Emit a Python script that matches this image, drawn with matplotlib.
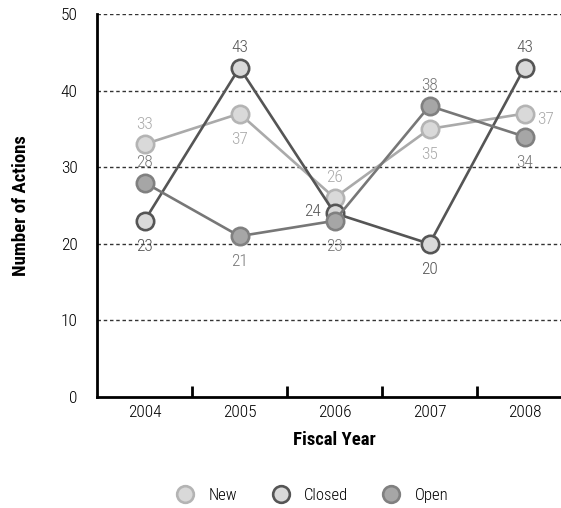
import numpy as np
import matplotlib.pyplot as plt
from matplotlib.lines import Line2D

plt.rcParams['font.family'] = ['Roboto Condensed', 'Liberation Sans Narrow', 'DejaVu Sans']
plt.rcParams['font.weight'] = 'light'

years = ['2004', '2005', '2006', '2007', '2008']
new_actions = [33, 37, 26, 35, 37]
closed_actions = [23, 43, 24, 20, 43]
open_actions = [28, 21, 23, 38, 34]

# where each value label sits relative to its point
new_pos = ['above', 'below', 'above', 'below', 'right']
closed_pos = ['below', 'above', 'left', 'below', 'above']
open_pos = ['above', 'below', 'below', 'above', 'below']

series = [
    ('New', new_actions, new_pos, '#aaaaaa', '#d9d9d9', '#b4b4b4', '#aaaaaa'),
    ('Closed', closed_actions, closed_pos, '#555555', '#d9d9d9', '#555555', '#555555'),
    ('Open', open_actions, open_pos, '#777777', '#a6a6a6', '#808080', '#777777'),
]

fig = plt.figure(figsize=(5.61, 5.08), dpi=100)
ax = fig.add_axes([97 / 561, 111 / 508, 475 / 561, 383 / 508])

x = np.arange(len(years))
offsets = {'above': (0, 9, 'center', 'bottom'),
           'below': (0, -13, 'center', 'top'),
           'left': (-10, 1, 'right', 'center'),
           'right': (9, -4, 'left', 'center')}

for name, vals, pos, lc, fc, ec, tc in series:
    ax.plot(x, vals, color=lc, lw=1.9, marker='o', ms=12.5,
            mfc=fc, mec=ec, mew=1.9, zorder=3)
    for xi, v, p in zip(x, vals, pos):
        dx, dy, ha, va = offsets[p]
        ax.annotate(str(v), (xi, v), xytext=(dx, dy), textcoords='offset points',
                    ha=ha, va=va, fontsize=12.5, color=tc, zorder=4)

ax.set_xlim(-0.5, 4.5)
ax.set_ylim(0, 50)
ax.set_yticks(range(0, 51, 10))
for yv in range(10, 51, 10):
    ax.axhline(yv, color='#333333', lw=1.0, ls=(0, (2.5, 2)), zorder=1)

ax.set_xticks(x)
ax.set_xticklabels(years)
ax.set_xticks(x[:-1] + 0.5, minor=True)
ax.tick_params(axis='x', which='major', length=0, pad=6, labelsize=12.5)
ax.tick_params(axis='x', which='minor', direction='in', length=8, width=2)
ax.tick_params(axis='y', length=0, pad=14, labelsize=12.5)

for s in ['top', 'right']:
    ax.spines[s].set_visible(False)
for s in ['left', 'bottom']:
    ax.spines[s].set_linewidth(2)
    ax.spines[s].set_color('black')

ax.set_xlabel('Fiscal Year', fontsize=13.5, fontweight='bold', labelpad=8)
ax.set_ylabel('Number of Actions', fontsize=13.5, fontweight='bold', labelpad=22)

handles = [Line2D([], [], ls='none', marker='o', ms=12, mfc=fc, mec=ec, mew=1.9)
           for _, _, _, _, fc, ec, _ in series]
fig.legend(handles, [s[0] for s in series], loc='center', bbox_to_anchor=(0.556, 0.025),
           ncol=3, frameon=False, fontsize=12, handletextpad=0.8, columnspacing=2.0,
           handlelength=1.2)

fig.savefig('out.png', dpi=100)
